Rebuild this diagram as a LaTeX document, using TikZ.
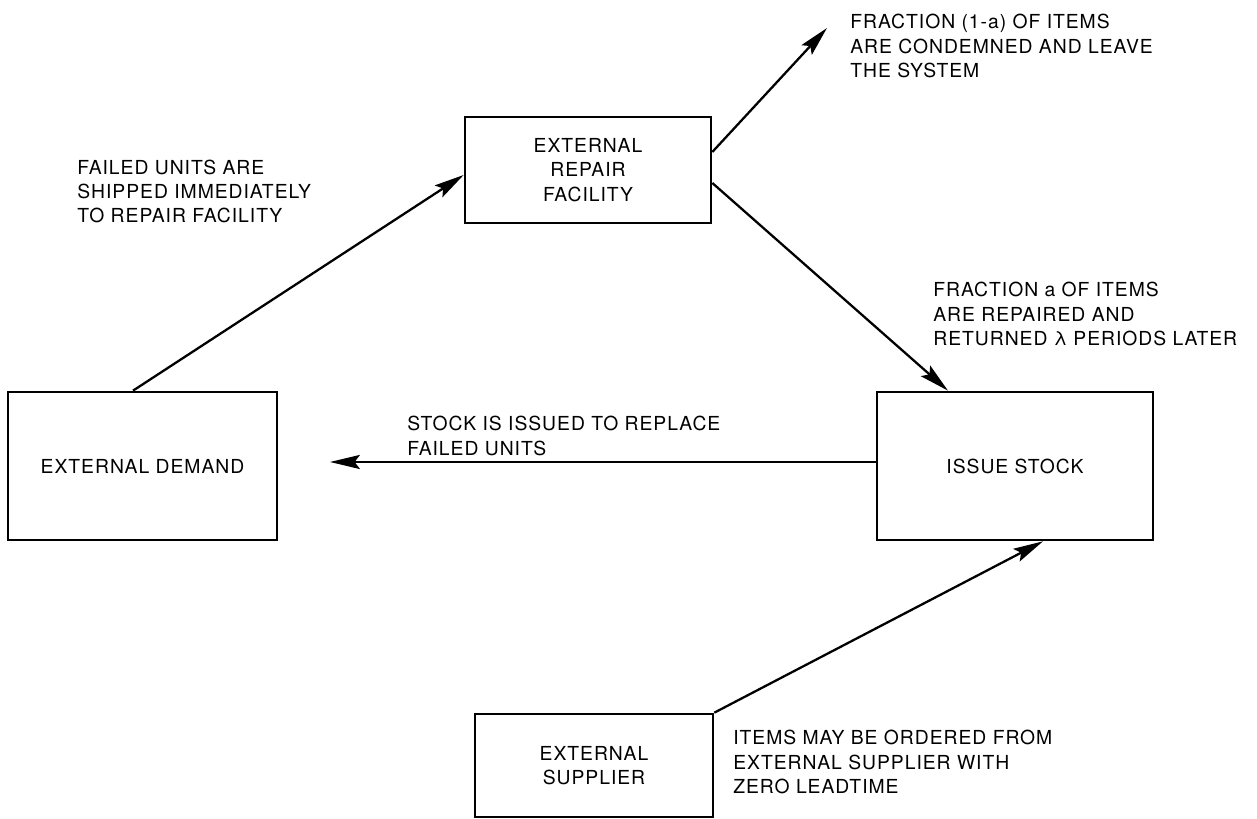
\documentclass[tikz,border=0pt]{standalone}
\usepackage{fontspec}
\setmainfont{TeX Gyre Heros}[LetterSpace=5.0]
\usetikzlibrary{arrows.meta,positioning}

\begin{document}
\begin{tikzpicture}[
  font=\fontsize{11}{13.9}\selectfont,
  box/.style={draw, line width=1.5pt, align=center, inner sep=3pt},
  lbl/.style={anchor=west, align=left, inner sep=0pt},
  arr/.style={-{Stealth[length=17pt, width=8pt, inset=3pt]}, line width=1.3pt}]
\useasboundingbox (0,0) rectangle (25.14,16.38);
\node[box, minimum width=4.92cm, minimum height=2.12cm] (repair) at (11.76,12.98) {EXTERNAL\\REPAIR\\FACILITY};
\node[box, minimum width=5.38cm, minimum height=2.96cm] (demand) at (2.85,7.06) {EXTERNAL DEMAND};
\node[box, minimum width=5.52cm, minimum height=2.96cm] (issue) at (20.30,7.06) {ISSUE STOCK};
\node[box, minimum width=4.76cm, minimum height=2.06cm] (supplier) at (11.88,1.07) {EXTERNAL\\SUPPLIER};
\coordinate (leave) at (16.54,15.82);
\coordinate (replace) at (6.60,7.14);
% labels
\node[lbl] (shiplbl) at (1.54,12.55) {FAILED UNITS ARE\\SHIPPED IMMEDIATELY\\TO REPAIR FACILITY};
\node[lbl] (condlbl) at (17.00,15.46) {FRACTION (1-a) OF ITEMS\\ARE CONDEMNED AND LEAVE\\THE SYSTEM};
\node[lbl] (replbl) at (18.66,10.10) {FRACTION a OF ITEMS\\ARE REPAIRED AND\\RETURNED λ PERIODS LATER};
\node[lbl] (issuelbl) at (8.14,7.66) {STOCK IS ISSUED TO REPLACE\\FAILED UNITS};
\node[lbl] (orderlbl) at (14.66,1.14) {ITEMS MAY BE ORDERED FROM\\EXTERNAL SUPPLIER WITH\\ZERO LEADTIME};
% flows
\draw[arr] ([xshift=-0.19cm]demand.north) -- ([yshift=-0.1cm]repair.west);
\draw[arr] ([yshift=0.36cm]repair.east) -- (leave);
\draw[arr] ([yshift=-0.26cm]repair.east) -- ([xshift=-1.34cm]issue.north);
\draw[arr] ([yshift=0.08cm]issue.west) -- (replace);
\draw[arr] (supplier.north east) -- ([xshift=0.56cm]issue.south);
\end{tikzpicture}
\end{document}
